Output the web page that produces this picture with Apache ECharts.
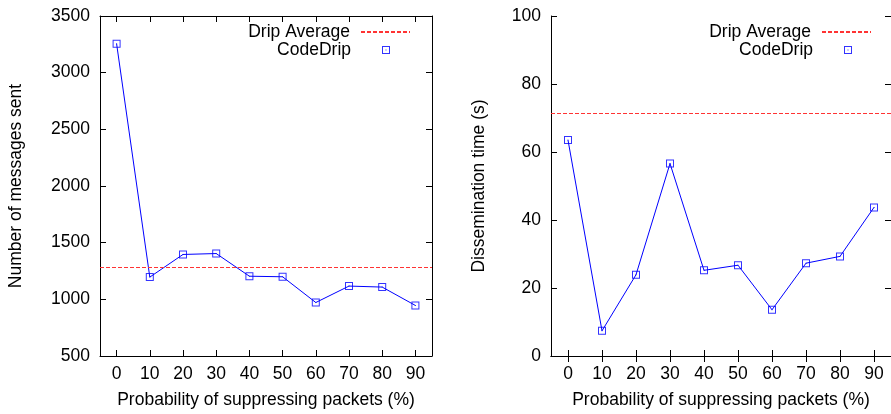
<!DOCTYPE html>
<html>
<head>
<meta charset="utf-8">
<script src="https://cdn.jsdelivr.net/npm/echarts@6/dist/echarts.min.js"></script>
<style>html,body{margin:0;padding:0;background:#fff}#c{width:891px;height:414px}</style>
</head>
<body>
<div id="c"></div>
<script>
const categories = ['0','10','20','30','40','50','60','70','80','90'];
const messagesCodeDrip = [3255, 1196, 1396, 1404, 1204, 1199, 972, 1117, 1108, 946];
const timeCodeDrip = [63.5, 7.4, 23.9, 56.6, 25.2, 26.7, 13.6, 27.3, 29.3, 43.7];
const dripAverageMessages = [1280];
const dripAverageTime = [71.3];
const yTicksMessages = [500, 3500, 500];   // min, max, interval
const yTicksTime = [0, 100, 20];

const FONT = 'Liberation Sans';
const FS = 17.5;
const BLUE = '#0000ff';
const RED = '#ff3333';
const marker = 'path://M0,0H8V8H0Z M1,1V7H7V1Z M3.5,3.5H4.5V4.5H3.5Z';

function xAxes(gridIndex){
  return [{
    type:'category', gridIndex, data:categories, position:'bottom', boundaryGap:true,
    axisLine:{show:true, lineStyle:{color:'#000', width:1}},
    axisTick:{show:true, inside:true, length:6, alignWithLabel:true, lineStyle:{color:'#000'}},
    axisLabel:{color:'#000', fontFamily:FONT, fontSize:FS, margin:9},
    splitLine:{show:false},
    name:'Probability of suppressing packets (%)', nameLocation:'middle', nameGap:35,
    nameTextStyle:{color:'#000', fontFamily:FONT, fontSize:FS}
  },{
    type:'category', gridIndex, data:categories, position:'top', boundaryGap:true,
    axisLine:{show:true, lineStyle:{color:'#000', width:1}},
    axisTick:{show:true, inside:true, length:6, alignWithLabel:true, lineStyle:{color:'#000'}},
    axisLabel:{show:false}, splitLine:{show:false}
  }];
}
function yAxes(gridIndex, t, name, gap){
  return [{
    type:'value', gridIndex, position:'left', min:t[0], max:t[1], interval:t[2],
    axisLine:{show:true, lineStyle:{color:'#000', width:1}},
    axisTick:{show:true, inside:true, length:6, lineStyle:{color:'#000'}},
    axisLabel:{color:'#000', fontFamily:FONT, fontSize:FS, margin:10, formatter:(v)=>String(v)},
    splitLine:{show:false},
    name, nameLocation:'middle', nameGap:gap,
    nameTextStyle:{color:'#000', fontFamily:FONT, fontSize:FS}
  },{
    type:'value', gridIndex, position:'right', min:t[0], max:t[1], interval:t[2],
    axisLine:{show:true, lineStyle:{color:'#000', width:1}},
    axisTick:{show:true, inside:true, length:6, lineStyle:{color:'#000'}},
    axisLabel:{show:false}, splitLine:{show:false}
  }];
}
function seriesFor(idx, values, avg){
  const xi = idx*2, yi = idx*2;
  return [{
    type:'line', name:'Drip Average', xAxisIndex:xi, yAxisIndex:yi, data:[], symbol:'none',
    lineStyle:{color:RED, width:1, type:[4,2]}, itemStyle:{color:RED},
    markLine:{silent:true, symbol:'none', label:{show:false},
      lineStyle:{color:RED, width:1, type:[4,2]},
      data: avg.map(v=>({yAxis:v}))}
  },{
    type:'line', xAxisIndex:xi, yAxisIndex:yi, data:values, symbol:'none', silent:true,
    lineStyle:{color:BLUE, width:1}
  },{
    type:'scatter', name:'CodeDrip', xAxisIndex:xi, yAxisIndex:yi, data:values,
    symbol:marker, symbolSize:8, itemStyle:{color:BLUE, borderWidth:0}
  }];
}
function legends(lineRight, markerCenter){
  const ts = {color:'#000', fontFamily:FONT, fontSize:FS, padding:[0,6,0,0]};
  const ts2 = {color:'#000', fontFamily:FONT, fontSize:FS, padding:[0,26,0,0]};
  return [{
    data:[{name:'Drip Average', itemStyle:{opacity:0}}], right:891-lineRight, top:23, padding:0, align:'right',
    itemWidth:49, itemHeight:14, textStyle:ts, selectedMode:false
  },{
    data:['CodeDrip'], right:891-(markerCenter+4), top:41, padding:0, align:'right',
    itemWidth:8, itemHeight:8, textStyle:ts2, selectedMode:false
  }];
}

const chart = echarts.init(document.getElementById('c'), null, {renderer:'canvas'});
chart.setOption({
  animation:false,
  backgroundColor:'#fff',
  grid:[
    {left:100, top:16, width:332, height:345},
    {left:551, top:16, width:342, height:345}
  ],
  xAxis:[...xAxes(0), ...xAxes(1)],
  yAxis:[...yAxes(0, yTicksMessages, 'Number of messages sent', 75),
         ...yAxes(1, yTicksTime, 'Dissemination time (s)', 63)],
  legend:[...legends(411, 386), ...legends(872, 848)],
  series:[...seriesFor(0, messagesCodeDrip, dripAverageMessages),
          ...seriesFor(1, timeCodeDrip, dripAverageTime)]
});
</script>
</body>
</html>
